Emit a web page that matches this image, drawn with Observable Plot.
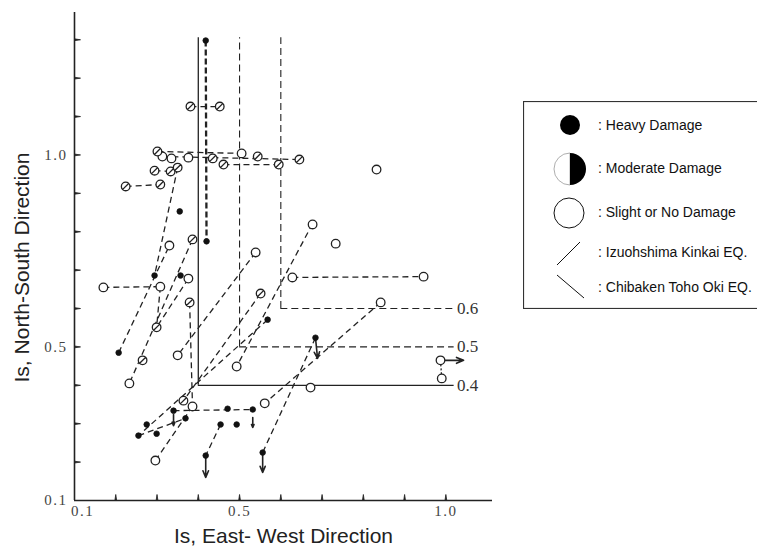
<!DOCTYPE html>
<html>
<head>
<meta charset="utf-8">
<script src="https://cdn.jsdelivr.net/npm/d3@7"></script>
<script src="https://cdn.jsdelivr.net/npm/@observablehq/plot@0.6"></script>
<style>
html, body { margin: 0; padding: 0; background: #fff; }
#wrap { position: relative; width: 757px; height: 551px; overflow: hidden; background: #fff; }
#chart { position: absolute; left: 0; top: 0; }
#legend { position: absolute; left: 523px; top: 101px; }
g[aria-label$="tick label"] text { letter-spacing: 1.5px; }
g[aria-label="threshold label"] text { letter-spacing: 1.5px; }
</style>
</head>
<body>
<div id="wrap"><div id="chart"></div><div id="legend"></div></div>
<script>
// ---------- data (Is values) ----------
const xTicks = [0.2, 0.3, 0.4, 0.5, 0.6, 0.7, 0.8, 0.9, 1.0];
const yTicks = [0.2, 0.3, 0.4, 0.5, 0.6, 0.7, 0.8, 0.9, 1.0, 1.1, 1.2, 1.3];
const xTickLabels = [0.5, 1.0];
const xFirstLabel = [0.1];
const yTickLabels = [0.1, 0.5, 1.0];
const xTitle = "Is, East- West Direction";
const yTitle = "Is, North-South Direction";

const thresholds = [0.4, 0.5, 0.6];
const thresholdTop = 1.305;
const thresholdEnd = 1.02;

// slight or no damage (open circles) [EW, NS]
const slight = [
  [0.313, 0.996], [0.335, 0.991], [0.376, 0.993], [0.505, 1.004], [0.832, 0.962],
  [0.677, 0.819], [0.733, 0.769], [0.539, 0.746], [0.330, 0.764], [0.170, 0.655],
  [0.308, 0.657], [0.376, 0.678], [0.628, 0.681], [0.946, 0.683], [0.842, 0.616],
  [0.350, 0.478], [0.233, 0.405], [0.493, 0.449], [0.987, 0.465], [0.990, 0.418],
  [0.672, 0.394], [0.561, 0.353], [0.386, 0.345], [0.296, 0.204]
];
// moderate damage
const moderate = [
  [0.301, 1.009], [0.435, 0.991], [0.544, 0.996], [0.461, 0.975], [0.595, 0.975],
  [0.645, 0.988], [0.294, 0.959], [0.333, 0.957], [0.350, 0.967], [0.224, 0.918],
  [0.308, 0.923], [0.381, 1.126], [0.452, 1.126], [0.386, 0.780], [0.379, 0.616],
  [0.299, 0.551], [0.265, 0.465], [0.551, 0.639], [0.364, 0.360]
];
// heavy damage
const heavy = [
  [0.418, 1.298], [0.420, 0.775], [0.355, 0.853], [0.294, 0.686], [0.357, 0.686],
  [0.207, 0.485], [0.568, 0.571], [0.684, 0.524], [0.255, 0.269], [0.275, 0.298],
  [0.299, 0.274], [0.369, 0.314], [0.340, 0.334], [0.471, 0.339], [0.532, 0.337],
  [0.454, 0.298], [0.493, 0.298], [0.418, 0.217], [0.556, 0.225]
];
// connecting lines [x1, y1, x2, y2]
const pairLinks = [
  [0.301, 1.009, 0.505, 1.004], [0.313, 0.996, 0.645, 0.988], [0.461, 0.975, 0.595, 0.975],
  [0.294, 0.959, 0.333, 0.957], [0.224, 0.918, 0.308, 0.923], [0.381, 1.126, 0.452, 1.126],
  [0.350, 0.967, 0.294, 0.686], [0.207, 0.485, 0.330, 0.764], [0.170, 0.655, 0.308, 0.657],
  [0.308, 0.657, 0.299, 0.551], [0.386, 0.780, 0.233, 0.405], [0.376, 0.678, 0.299, 0.551],
  [0.539, 0.746, 0.350, 0.478], [0.677, 0.821, 0.493, 0.449], [0.842, 0.616, 0.561, 0.353],
  [0.684, 0.524, 0.556, 0.225], [0.568, 0.571, 0.255, 0.269], [0.551, 0.639, 0.364, 0.360],
  [0.296, 0.204, 0.386, 0.345], [0.255, 0.269, 0.369, 0.314], [0.379, 0.616, 0.386, 0.345],
  [0.340, 0.334, 0.532, 0.337], [0.454, 0.298, 0.418, 0.217], [0.628, 0.681, 0.946, 0.683]
];
const boldLinks = [[0.418, 1.298, 0.420, 0.775]];
const dottedLinks = [[0.987, 0.465, 0.990, 0.418]];
const arrowLinks = [
  [0.684, 0.524, 0.689, 0.470], [0.556, 0.225, 0.556, 0.173], [0.418, 0.217, 0.418, 0.160],
  [0.987, 0.465, 1.043, 0.465], [0.532, 0.316, 0.532, 0.290], [0.340, 0.324, 0.340, 0.295]
];

// legend
const legendLabels = [": Heavy Damage", ": Moderate Damage", ": Slight or No Damage", ": Izuohshima Kinkai EQ.", ": Chibaken Toho Oki EQ."];

// ---------- chart ----------
const ink = "#222";
const slashCircle = {
  draw(ctx, size) {
    const r = Math.sqrt(size / Math.PI);
    ctx.moveTo(r, 0);
    ctx.arc(0, 0, r, 0, 2 * Math.PI);
    ctx.closePath();
    const a = r * 0.8;
    ctx.moveTo(-a, a);
    ctx.lineTo(a, -a);
  }
};
const L = {x1: d => d[0], y1: d => d[1], x2: d => d[2], y2: d => d[3]};
const P = {x: d => d[0], y: d => d[1]};

const chart = Plot.plot({
  width: 757, height: 551,
  marginLeft: 74, marginRight: 265, marginTop: 12, marginBottom: 51,
  x: {domain: [0.1, 1.113]},
  y: {domain: [0.1, 1.371]},
  style: {background: "transparent", overflow: "visible"},
  marks: [
    // threshold lines
    Plot.ruleX(thresholds.filter(t => t === 0.4), {x: d => d, y1: d => d, y2: thresholdTop, stroke: ink, strokeWidth: 1.3}),
    Plot.ruleY(thresholds.filter(t => t === 0.4), {y: d => d, x1: d => d, x2: thresholdEnd, stroke: ink, strokeWidth: 1.3}),
    Plot.ruleX(thresholds.filter(t => t !== 0.4), {x: d => d, y1: d => d, y2: thresholdTop, stroke: ink, strokeWidth: 1.1, strokeDasharray: "7,4"}),
    Plot.ruleY(thresholds.filter(t => t !== 0.4), {y: d => d, x1: d => d, x2: thresholdEnd, stroke: ink, strokeWidth: 1.1, strokeDasharray: "7,4"}),
    Plot.text(thresholds, {x: thresholdEnd, y: d => d, text: d => d.toFixed(1), textAnchor: "start", dx: 3, fontSize: 17, fontFamily: "Liberation Serif", fill: "#333", ariaLabel: "threshold label"}),
    // data lines
    Plot.link(pairLinks, {...L, stroke: ink, strokeWidth: 1.3, strokeDasharray: "6,4"}),
    Plot.link(boldLinks, {...L, stroke: ink, strokeWidth: 2.3, strokeDasharray: "6,3"}),
    Plot.link(dottedLinks, {...L, stroke: ink, strokeWidth: 1.3, strokeDasharray: "2,2"}),
    Plot.arrow(arrowLinks, {...L, stroke: ink, strokeWidth: 1.6, headLength: 8, headAngle: 45}),
    // markers
    Plot.dot(slight, {...P, r: 4.3, stroke: ink, strokeWidth: 1.3, fill: "white"}),
    Plot.dot(moderate, {...P, r: 4.3, symbol: slashCircle, stroke: ink, strokeWidth: 1.3, fill: "white"}),
    Plot.dot(heavy, {...P, r: 2.8, fill: "#111", stroke: "#111", strokeWidth: 0.8}),
    // axes: inward ticks (thin spikes), axis lines
    Plot.vector(xTicks, {x: d => d, frameAnchor: "bottom", length: 6, r: 0.9, rotate: 0, anchor: "start", shape: "spike", stroke: ink, strokeWidth: 0.8, fill: ink}),
    Plot.vector(yTicks, {y: d => d, frameAnchor: "left", length: 6, r: 0.9, rotate: 90, anchor: "start", shape: "spike", stroke: ink, strokeWidth: 0.8, fill: ink}),
    Plot.ruleX([0.1], {stroke: ink, strokeWidth: 1.6}),
    Plot.ruleY([0.1], {stroke: ink, strokeWidth: 1.6}),
    Plot.axisX(xTickLabels, {anchor: "bottom", tickSize: 0, tickPadding: 5, tickFormat: d => d.toFixed(1), label: null, fontSize: 15, fontFamily: "Liberation Serif", color: "#444"}),
    Plot.axisX(xFirstLabel, {anchor: "bottom", tickSize: 0, tickPadding: 5, tickFormat: d => d.toFixed(1), label: null, fontSize: 15, fontFamily: "Liberation Serif", color: "#444", dx: 8}),
    Plot.axisY(yTickLabels, {anchor: "left", tickSize: 0, tickPadding: 7, tickFormat: d => d.toFixed(1), label: null, fontSize: 15, fontFamily: "Liberation Serif", color: "#444"}),
    Plot.text([xTitle], {text: d => d, frameAnchor: "bottom", dy: 36, lineAnchor: "middle", textAnchor: "middle", fontSize: 21, fontFamily: "Liberation Sans", fill: "#222"}),
    Plot.text([yTitle], {text: d => d, frameAnchor: "left", rotate: -90, dx: -52, dy: 11, lineAnchor: "middle", textAnchor: "middle", fontSize: 21, fontFamily: "Liberation Sans", fill: "#222"})
  ]
});
document.getElementById("chart").appendChild(chart);

// ---------- legend ----------
const lw = 260, lh = 208;
const svg = d3.select("#legend").append("svg").attr("width", lw).attr("height", lh)
  .style("font-family", "Liberation Sans, Arial, sans-serif");
svg.append("rect").attr("x", 0.5).attr("y", 0.5).attr("width", lw).attr("height", lh - 1)
  .attr("fill", "white").attr("stroke", "#333").attr("stroke-width", 1.2);
const rowY = [24, 67, 111, 151, 186];
// heavy
svg.append("circle").attr("cx", 47).attr("cy", rowY[0]).attr("r", 10).attr("fill", "#000");
// moderate (half-filled)
svg.append("path").attr("d", d3.arc()({innerRadius: 0, outerRadius: 16, startAngle: Math.PI, endAngle: 2 * Math.PI}))
  .attr("transform", `translate(47,${rowY[1] + 1})`).attr("fill", "white").attr("stroke", "#999").attr("stroke-width", 0.8);
svg.append("path").attr("d", d3.arc()({innerRadius: 0, outerRadius: 16, startAngle: 0, endAngle: Math.PI}))
  .attr("transform", `translate(47,${rowY[1] + 1})`).attr("fill", "#000");
// slight
svg.append("circle").attr("cx", 46).attr("cy", rowY[2] + 1).attr("r", 15).attr("fill", "white").attr("stroke", "#111").attr("stroke-width", 1);
// earthquake lines
svg.append("line").attr("x1", 34).attr("y1", 164).attr("x2", 57).attr("y2", 141).attr("stroke", "#111").attr("stroke-width", 1);
svg.append("line").attr("x1", 34).attr("y1", 174).attr("x2", 61).attr("y2", 197).attr("stroke", "#111").attr("stroke-width", 1);
svg.selectAll("text.lab").data(legendLabels).join("text").attr("class", "lab")
  .attr("x", 75).attr("y", (d, i) => rowY[i]).attr("dy", "0.35em")
  .attr("font-size", 14).attr("fill", "#111").text(d => d);
</script>
</body>
</html>
